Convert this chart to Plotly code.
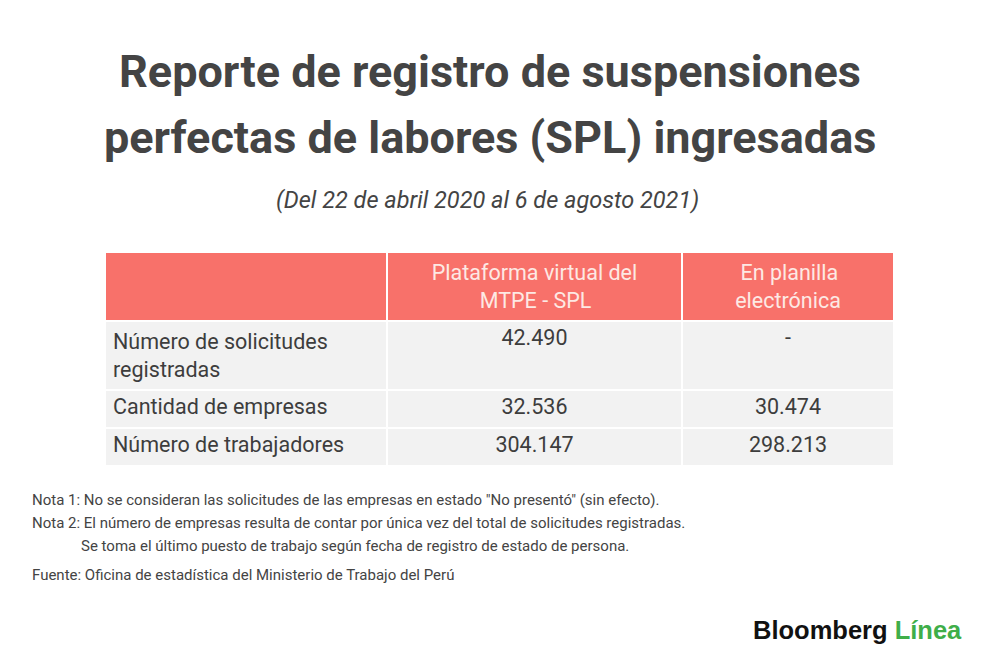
import plotly.graph_objects as go

# datos de la tabla
header_1 = 'Plataforma virtual del'
header_1b = 'MTPE - SPL'
header_2 = 'En planilla'
header_2b = 'electrónica'
row_labels = ['Número de solicitudes<br>registradas', 'Cantidad de empresas', 'Número de trabajadores']
plataforma = ['42.490', '32.536', '304.147']
planilla = ['-', '30.474', '298.213']

titulo = ['Reporte de registro de suspensiones', 'perfectas de labores (SPL) ingresadas']
subtitulo = '(Del 22 de abril 2020 al 6 de agosto 2021)'
notas = [
    'Nota 1: No se consideran las solicitudes de las empresas en estado "No presentó" (sin efecto).',
    'Nota 2: El número de empresas resulta de contar por única vez del total de solicitudes registradas.',
    'Se toma el último puesto de trabajo según fecha de registro de estado de persona.',
]
fuente = 'Fuente: Oficina de estadística del Ministerio de Trabajo del Perú'

W, H = 1000, 663
OFF = 8  # margen del body de la pagina
salmon = '#f8716a'
gris = '#f2f2f2'
texto = '#3d3d3d'
nb = '\u00a0'


def px_x(x):
    return (x - OFF) / W


def px_y(y):
    return 1 - (y - OFF) / H


# centrar a mano la segunda linea de las cabeceras
headers = ['', header_1 + '<br>' + nb * 9 + header_1b, nb + header_2 + '<br>' + header_2b]

fig = go.Figure()
fig.add_trace(go.Table(
    domain=dict(x=[px_x(105), px_x(894)], y=[0, px_y(252)]),
    columnwidth=[282, 295, 212],
    header=dict(
        values=headers,
        fill_color=salmon,
        line=dict(color='white', width=1.5),
        align='center',
        font=dict(family='Roboto', size=21.5, color='#fde9e4'),
        height=58,
    ),
    cells=dict(
        values=[row_labels, plataforma, planilla],
        fill_color=gris,
        line=dict(color='white', width=2.5),
        align=['left', 'center', 'center'],
        font=dict(family='Roboto', size=21.5, color=texto),
        height=38,
    ),
))

for i, linea in enumerate(titulo):
    fig.add_annotation(
        text='<b>' + linea + '</b>',
        x=px_x(490), y=px_y(72 + i * 66), xref='paper', yref='paper',
        xanchor='center', yanchor='middle', showarrow=False,
        font=dict(family='Roboto', size=45, color='#444444'),
    )
fig.add_annotation(
    text='<i>' + subtitulo + '</i>',
    x=px_x(487), y=px_y(200), xref='paper', yref='paper',
    xanchor='center', yanchor='middle', showarrow=False,
    font=dict(family='Roboto', size=23.5, color='#444444'),
)

nota_x = [30, 30, 79]
for i, nota in enumerate(notas):
    fig.add_annotation(
        text=nota, x=px_x(nota_x[i]), y=px_y(500 + i * 23), xref='paper', yref='paper',
        xanchor='left', yanchor='middle', showarrow=False,
        font=dict(family='Roboto', size=15, color='#444444'),
    )
fig.add_annotation(
    text=fuente, x=px_x(30), y=px_y(575), xref='paper', yref='paper',
    xanchor='left', yanchor='middle', showarrow=False,
    font=dict(family='Roboto', size=15, color='#444444'),
)

fig.add_annotation(
    text='<b>Bloomberg</b> <b><span style="color:#3fae49">Línea</span></b>',
    x=px_x(964), y=px_y(630), xref='paper', yref='paper',
    xanchor='right', yanchor='middle', showarrow=False,
    font=dict(family='Liberation Sans', size=25.5, color='#111111'),
)

fig.update_layout(
    width=W, height=H,
    margin=dict(l=0, r=0, t=0, b=0),
    paper_bgcolor='white',
    plot_bgcolor='white',
)
fig.write_html('out.html')
